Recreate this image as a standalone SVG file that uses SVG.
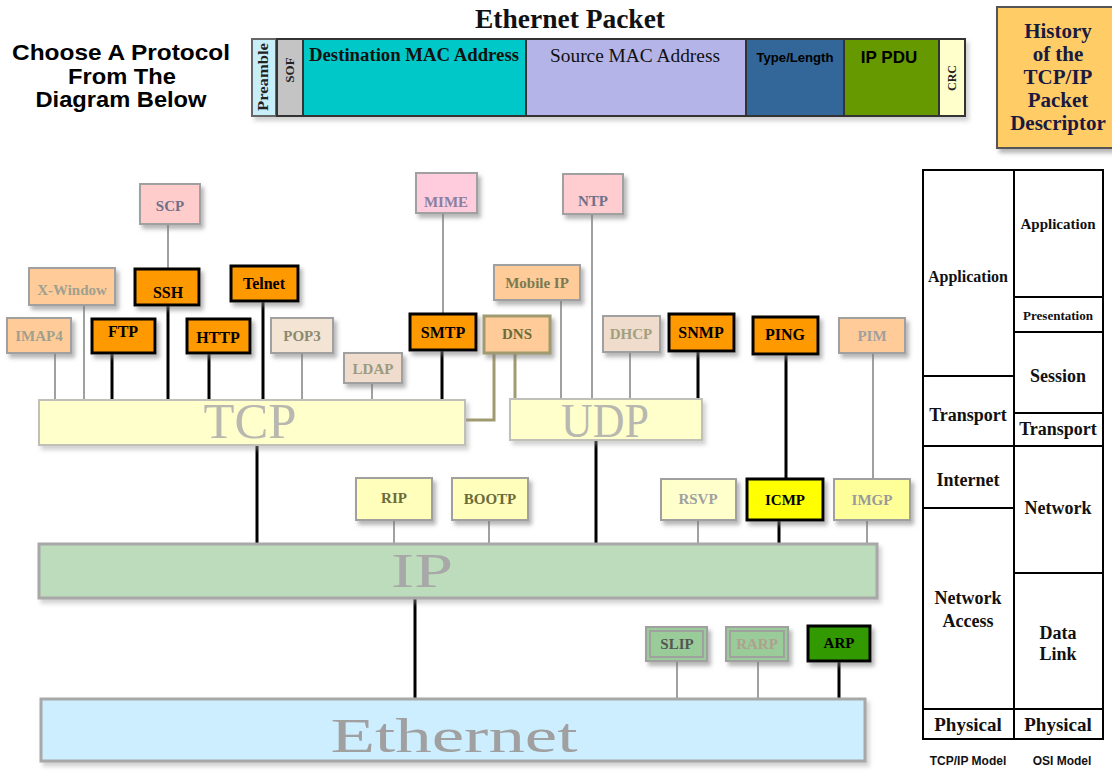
<svg xmlns="http://www.w3.org/2000/svg" width="1112" height="772" viewBox="0 0 1112 772">
<defs>
<filter id="sh" x="-20%" y="-20%" width="150%" height="160%">
<feDropShadow dx="3" dy="4" stdDeviation="2" flood-color="#777" flood-opacity="0.55"/>
</filter>
<filter id="shl" x="-5%" y="-20%" width="110%" height="160%">
<feDropShadow dx="3" dy="4" stdDeviation="2" flood-color="#999" flood-opacity="0.45"/>
</filter>
</defs>
<style>
.ser{font-family:"Liberation Serif","Times New Roman",serif}
.san{font-family:"Liberation Sans",Arial,sans-serif}
.nb{font-family:"Liberation Serif","Times New Roman",serif;font-weight:bold;font-size:15px;text-anchor:middle}
.hot rect{fill:#ff9900;stroke:#000;stroke-width:3}
.hot text{fill:#000;font-size:16px}
.fade rect{stroke:#a0a0a0;stroke-width:2}
.gl{stroke:#a0a0a0;stroke-width:2;fill:none}
.bl{stroke:#000;stroke-width:3;fill:none}
.ol{stroke:#a09a70;stroke-width:3;fill:none}
.tbl{fill:#fff;stroke:#000;stroke-width:2}
.tt{font-family:"Liberation Serif","Times New Roman",serif;font-weight:bold;text-anchor:middle;fill:#111}
.big{font-family:"Liberation Serif","Times New Roman",serif;text-anchor:middle}
</style>
<rect width="1112" height="772" fill="#fff"/>

<!-- Header text -->
<g id="choose" class="san" font-weight="bold" font-size="22" text-anchor="middle" fill="#000">
<text x="121" y="60" textLength="218" lengthAdjust="spacingAndGlyphs">Choose  A Protocol</text>
<text x="122" y="84" textLength="108" lengthAdjust="spacingAndGlyphs">From The</text>
<text x="121" y="107" textLength="171" lengthAdjust="spacingAndGlyphs">Diagram Below</text>
</g>
<text id="packet-title" class="ser" x="570" y="28" font-size="27" font-weight="bold" text-anchor="middle" fill="#111" textLength="190" lengthAdjust="spacingAndGlyphs">Ethernet Packet</text>

<!-- Ethernet packet bar -->
<g id="packet">
<rect x="251" y="38" width="715" height="79" fill="#333" filter="url(#shl)"/>
<g id="f-preamble"><rect x="252" y="39" width="24" height="77" fill="#c8eef8" stroke="#666" stroke-width="2"/>
<text class="ser" font-weight="bold" font-size="14" fill="#222" text-anchor="middle" transform="translate(268,77) rotate(-90)" textLength="68" lengthAdjust="spacingAndGlyphs">Preamble</text></g>
<g id="f-sof"><rect x="277" y="39" width="26" height="77" fill="#c4c4c4" stroke="#333" stroke-width="2"/>
<text class="ser" font-weight="bold" font-size="13" fill="#222" text-anchor="middle" transform="translate(294,70) rotate(-90)">SOF</text></g>
<g id="f-dest"><rect x="303" y="39" width="223" height="77" fill="#00c8c8" stroke="#333" stroke-width="2"/>
<text class="ser" font-weight="bold" font-size="18" fill="#111" x="414" y="61" text-anchor="middle" textLength="210" lengthAdjust="spacingAndGlyphs">Destination MAC Address</text></g>
<g id="f-src"><rect x="526" y="39" width="220" height="77" fill="#b4b4e8" stroke="#333" stroke-width="2"/>
<text class="ser" font-size="19" fill="#111" x="635" y="62" text-anchor="middle" textLength="170" lengthAdjust="spacingAndGlyphs">Source MAC Address</text></g>
<g id="f-type"><rect x="746" y="39" width="98" height="77" fill="#336699" stroke="#333" stroke-width="2"/>
<text class="san" font-weight="bold" font-size="13" fill="#000" x="795" y="62" text-anchor="middle" textLength="77" lengthAdjust="spacingAndGlyphs">Type/Length</text></g>
<g id="f-ippdu"><rect x="844" y="39" width="95" height="77" fill="#669900" stroke="#333" stroke-width="2"/>
<text class="san" font-weight="bold" font-size="17" fill="#000" x="889" y="63" text-anchor="middle">IP PDU</text></g>
<g id="f-crc"><rect x="939" y="39" width="26" height="77" fill="#ffffcc" stroke="#333" stroke-width="2"/>
<text class="ser" font-weight="bold" font-size="12" fill="#222" text-anchor="middle" transform="translate(956,78) rotate(-90)">CRC</text></g>
</g>

<!-- History box -->
<g id="history">
<rect x="997" y="7" width="120" height="141" fill="#ffcc66" stroke="#555" stroke-width="2" filter="url(#sh)"/>
<g class="ser" font-weight="bold" font-size="21" fill="#1a1a40" text-anchor="middle">
<text x="1058" y="38">History</text>
<text x="1058" y="61">of the</text>
<text x="1058" y="84">TCP/IP</text>
<text x="1058" y="107">Packet</text>
<text x="1058" y="130">Descriptor</text>
</g>
</g>

<!-- Connectors -->
<g id="connectors">
<line class="gl" x1="168" y1="224" x2="168" y2="268"/>
<line class="gl" x1="55" y1="353" x2="55" y2="400"/>
<line class="gl" x1="84" y1="305" x2="84" y2="400"/>
<line class="bl" x1="112" y1="353" x2="112" y2="400"/>
<line class="bl" x1="168" y1="305" x2="168" y2="400" stroke-width="4"/>
<line class="bl" x1="209" y1="353" x2="209" y2="400"/>
<line class="bl" x1="263" y1="301" x2="263" y2="400"/>
<line class="gl" x1="302" y1="353" x2="302" y2="400"/>
<line class="gl" x1="372" y1="383" x2="372" y2="400"/>
<line class="gl" x1="443" y1="213" x2="443" y2="313"/>
<line class="bl" x1="442" y1="350" x2="442" y2="400"/>
<path class="ol" d="M494 353 V420 H465"/>
<line class="ol" x1="515" y1="353" x2="515" y2="399"/>
<line class="gl" x1="561" y1="300" x2="561" y2="399"/>
<line class="gl" x1="592" y1="214" x2="592" y2="399"/>
<line class="gl" x1="630" y1="352" x2="630" y2="399"/>
<line class="bl" x1="698" y1="351" x2="698" y2="399"/>
<line class="bl" x1="786" y1="354" x2="786" y2="479"/>
<line class="gl" x1="873" y1="353" x2="873" y2="479"/>
<line class="bl" x1="257" y1="445" x2="257" y2="544"/>
<line class="bl" x1="596" y1="440" x2="596" y2="544"/>
<line class="gl" x1="394" y1="520" x2="394" y2="544"/>
<line class="gl" x1="489" y1="520" x2="489" y2="544"/>
<line class="gl" x1="698" y1="520" x2="698" y2="544"/>
<line class="bl" x1="779" y1="520" x2="779" y2="544"/>
<line class="gl" x1="867" y1="520" x2="867" y2="544"/>
<line class="bl" x1="415" y1="598" x2="415" y2="699"/>
<line class="gl" x1="677" y1="661" x2="677" y2="699"/>
<line class="gl" x1="758" y1="661" x2="758" y2="699"/>
<line class="bl" x1="839" y1="661" x2="839" y2="699"/>
</g>

<!-- Layer bars -->
<g id="tcp"><rect x="39" y="400" width="426" height="45" fill="#ffffcc" stroke="#c0c0b8" stroke-width="2" filter="url(#shl)"/>
<text class="big" x="250" y="438" font-size="50" fill="#b8b8b0" textLength="93" lengthAdjust="spacingAndGlyphs">TCP</text></g>
<g id="udp"><rect x="510" y="399" width="192" height="41" fill="#ffffcc" stroke="#c0c0b8" stroke-width="2" filter="url(#shl)"/>
<text class="big" x="605" y="437" font-size="48" fill="#b8b8b0" textLength="88" lengthAdjust="spacingAndGlyphs">UDP</text></g>
<g id="ip"><rect x="39" y="544" width="838" height="54" fill="#bcdcbc" stroke="#a8a8a8" stroke-width="3" filter="url(#shl)"/>
<text class="big" x="422" y="587" font-size="48" fill="#a8a8a8" textLength="62" lengthAdjust="spacingAndGlyphs">IP</text></g>
<g id="ethernet"><rect x="41" y="699" width="824" height="62" fill="#cceeff" stroke="#a8a8a8" stroke-width="3" filter="url(#shl)"/>
<text class="big" x="454" y="752" font-size="48" fill="#a0a0a0" textLength="247" lengthAdjust="spacingAndGlyphs">Ethernet</text></g>

<!-- Protocol nodes -->
<g id="scp" class="fade"><rect x="140" y="184" width="60" height="40" fill="#ffcccc" filter="url(#sh)"/><text class="nb" x="170" y="211" fill="#707088" font-weight="normal">SCP</text></g>
<g id="xwindow" class="fade"><rect x="29" y="268" width="86" height="37" fill="#ffcc99" filter="url(#sh)"/><text class="nb" x="72" y="295" fill="#a0a090" font-weight="normal">X-Window</text></g>
<g id="ssh" class="hot"><rect x="135" y="269" width="64" height="36" filter="url(#sh)"/><text class="nb" x="168" y="298">SSH</text></g>
<g id="telnet" class="hot"><rect x="231" y="266" width="67" height="35" filter="url(#sh)"/><text class="nb" x="264" y="289">Telnet</text></g>
<g id="imap4" class="fade"><rect x="7" y="318" width="64" height="35" fill="#ffcc99" filter="url(#sh)"/><text class="nb" x="39" y="341" fill="#a0a090">IMAP4</text></g>
<g id="ftp" class="hot"><rect x="92" y="319" width="63" height="34" filter="url(#sh)"/><text class="nb" x="123" y="337">FTP</text></g>
<g id="http" class="hot"><rect x="187" y="319" width="63" height="34" filter="url(#sh)"/><text class="nb" x="218" y="343">HTTP</text></g>
<g id="pop3" class="fade"><rect x="271" y="318" width="62" height="35" fill="#f4e4d4" filter="url(#sh)"/><text class="nb" x="302" y="341" fill="#8a8a70" font-weight="normal">POP3</text></g>
<g id="ldap" class="fade"><rect x="344" y="353" width="58" height="30" fill="#f0dccc" filter="url(#sh)"/><text class="nb" x="373" y="374" fill="#9a9a80" font-weight="normal">LDAP</text></g>
<g id="mime" class="fade"><rect x="416" y="173" width="61" height="40" fill="#ffccdd" filter="url(#sh)"/><text class="nb" x="446" y="207" fill="#8a80a0" font-weight="normal">MIME</text></g>
<g id="smtp" class="hot"><rect x="410" y="314" width="66" height="36" filter="url(#sh)"/><text class="nb" x="443" y="338">SMTP</text></g>
<g id="dns"><rect x="484" y="316" width="66" height="37" fill="#ffcc99" stroke="#a09a70" stroke-width="3" filter="url(#sh)"/><text class="nb" x="517" y="339" font-size="17" fill="#6b6b3a">DNS</text></g>
<g id="mobileip" class="fade"><rect x="494" y="265" width="86" height="35" fill="#ffcc99" filter="url(#sh)"/><text class="nb" x="537" y="288" fill="#7a7a50" font-weight="normal">Mobile IP</text></g>
<g id="ntp" class="fade"><rect x="563" y="174" width="60" height="40" fill="#ffccd0" filter="url(#sh)"/><text class="nb" x="593" y="206" fill="#707088" font-weight="normal">NTP</text></g>
<g id="dhcp" class="fade"><rect x="603" y="316" width="57" height="36" fill="#f0dccc" filter="url(#sh)"/><text class="nb" x="631" y="339" fill="#a0a080" font-size="14" font-weight="normal">DHCP</text></g>
<g id="snmp" class="hot"><rect x="669" y="314" width="65" height="37" filter="url(#sh)"/><text class="nb" x="701" y="338">SNMP</text></g>
<g id="ping" class="hot"><rect x="753" y="317" width="65" height="37" filter="url(#sh)"/><text class="nb" x="785" y="340">PING</text></g>
<g id="pim" class="fade"><rect x="839" y="318" width="66" height="35" fill="#ffcc99" filter="url(#sh)"/><text class="nb" x="872" y="341" fill="#a0a0a0" font-weight="normal">PIM</text></g>
<g id="rip" class="fade"><rect x="356" y="478" width="76" height="42" fill="#ffffbb" filter="url(#sh)"/><text class="nb" x="394" y="503" fill="#6b6b3a" font-size="14">RIP</text></g>
<g id="bootp" class="fade"><rect x="452" y="478" width="76" height="42" fill="#ffffbb" filter="url(#sh)"/><text class="nb" x="490" y="504" fill="#6b6b3a" font-size="14">BOOTP</text></g>
<g id="rsvp" class="fade"><rect x="661" y="479" width="75" height="41" fill="#ffffcc" filter="url(#sh)"/><text class="nb" x="698" y="504" fill="#a0a0a0">RSVP</text></g>
<g id="icmp"><rect x="747" y="479" width="76" height="41" fill="#ffff00" stroke="#000" stroke-width="3" filter="url(#sh)"/><text class="nb" x="785" y="505" fill="#000">ICMP</text></g>
<g id="imgp" class="fade"><rect x="834" y="479" width="76" height="41" fill="#ffff99" filter="url(#sh)"/><text class="nb" x="872" y="505" fill="#9a9a9a">IMGP</text></g>
<g id="slip" class="fade"><rect x="646" y="627" width="61" height="34" fill="#99cc99" filter="url(#sh)"/><rect x="650" y="631" width="53" height="26" fill="none" stroke="#d8d0a0" stroke-width="1"/><text class="nb" x="677" y="649" fill="#555">SLIP</text></g>
<g id="rarp" class="fade"><rect x="726" y="627" width="62" height="34" fill="#99cc99" filter="url(#sh)"/><rect x="730" y="631" width="54" height="26" fill="none" stroke="#d8c8a0" stroke-width="1"/><text class="nb" x="757" y="649" fill="#b0a090" font-weight="normal">RARP</text></g>
<g id="arp"><rect x="808" y="626" width="62" height="35" fill="#339900" stroke="#000" stroke-width="3" filter="url(#sh)"/><text class="nb" x="839" y="648" fill="#000">ARP</text></g>

<!-- Model table -->
<g id="model-table">
<rect class="tbl" x="923" y="170" width="91" height="206"/>
<rect class="tbl" x="923" y="376" width="91" height="70"/>
<rect class="tbl" x="923" y="446" width="91" height="62"/>
<rect class="tbl" x="923" y="508" width="91" height="201"/>
<rect class="tbl" x="923" y="709" width="91" height="30"/>
<rect class="tbl" x="1014" y="170" width="89" height="127"/>
<rect class="tbl" x="1014" y="297" width="89" height="35"/>
<rect class="tbl" x="1014" y="332" width="89" height="81"/>
<rect class="tbl" x="1014" y="413" width="89" height="33"/>
<rect class="tbl" x="1014" y="446" width="89" height="127"/>
<rect class="tbl" x="1014" y="573" width="89" height="136"/>
<rect class="tbl" x="1014" y="709" width="89" height="30"/>
<text class="tt" x="968" y="282" font-size="16" font-weight="normal">Application</text>
<text class="tt" x="968" y="421" font-size="18">Transport</text>
<text class="tt" x="968" y="486" font-size="18">Internet</text>
<text class="tt" x="968" y="604" font-size="18">Network</text>
<text class="tt" x="968" y="627" font-size="18">Access</text>
<text class="tt" x="968" y="731" font-size="19">Physical</text>
<text class="tt" x="1058" y="229" font-size="15" font-weight="normal">Application</text>
<text class="tt" x="1058" y="320" font-size="13">Presentation</text>
<text class="tt" x="1058" y="382" font-size="18">Session</text>
<text class="tt" x="1058" y="435" font-size="18">Transport</text>
<text class="tt" x="1058" y="514" font-size="18">Network</text>
<text class="tt" x="1058" y="639" font-size="18">Data</text>
<text class="tt" x="1058" y="660" font-size="18">Link</text>
<text class="tt" x="1058" y="731" font-size="19">Physical</text>
<g class="san" font-weight="bold" font-size="12" fill="#111" text-anchor="middle">
<text x="968" y="765">TCP/IP Model</text>
<text x="1062" y="765">OSI Model</text>
</g>
</g>
</svg>
